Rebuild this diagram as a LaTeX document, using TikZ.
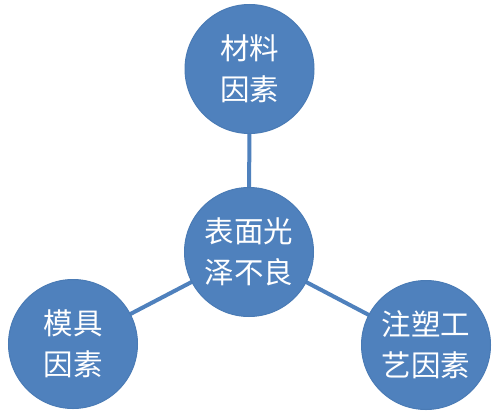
\documentclass[tikz,border=0pt]{standalone}
\usepackage{fontspec}
\newfontfamily\cjk{Noto Sans CJK SC}
\definecolor{cblue}{HTML}{4F81BD}
\definecolor{cedge}{HTML}{4A7BB5}
\begin{document}
\begin{tikzpicture}[x=1pt,y=-1pt,
  ball/.style={circle,fill=cblue,draw=cedge,line width=1pt,minimum size=129pt,inner sep=0pt,
    text=white,font=\cjk\fontsize{29.5}{41}\selectfont,align=center},
  link/.style={draw=cblue,line width=4pt}]
\useasboundingbox (0,0) rectangle (500,415);
\fill[white] (0,0) rectangle (500,415);
\coordinate (pc) at (249,252);
\coordinate (pt) at (249.5,69);
\coordinate (pl) at (73,344);
\coordinate (pr) at (426,345);
\draw[link] (pc) -- (pt);
\draw[link] (pc) -- (pl);
\draw[link] (pc) -- (pr);
\node[ball] (c) at (pc) {表面光\\泽不良};
\node[ball] (t) at (pt) {材料\\因素};
\node[ball] (l) at (pl) {模具\\因素};
\node[ball] (r) at (pr) {注塑工\\艺因素};
\end{tikzpicture}
\end{document}
